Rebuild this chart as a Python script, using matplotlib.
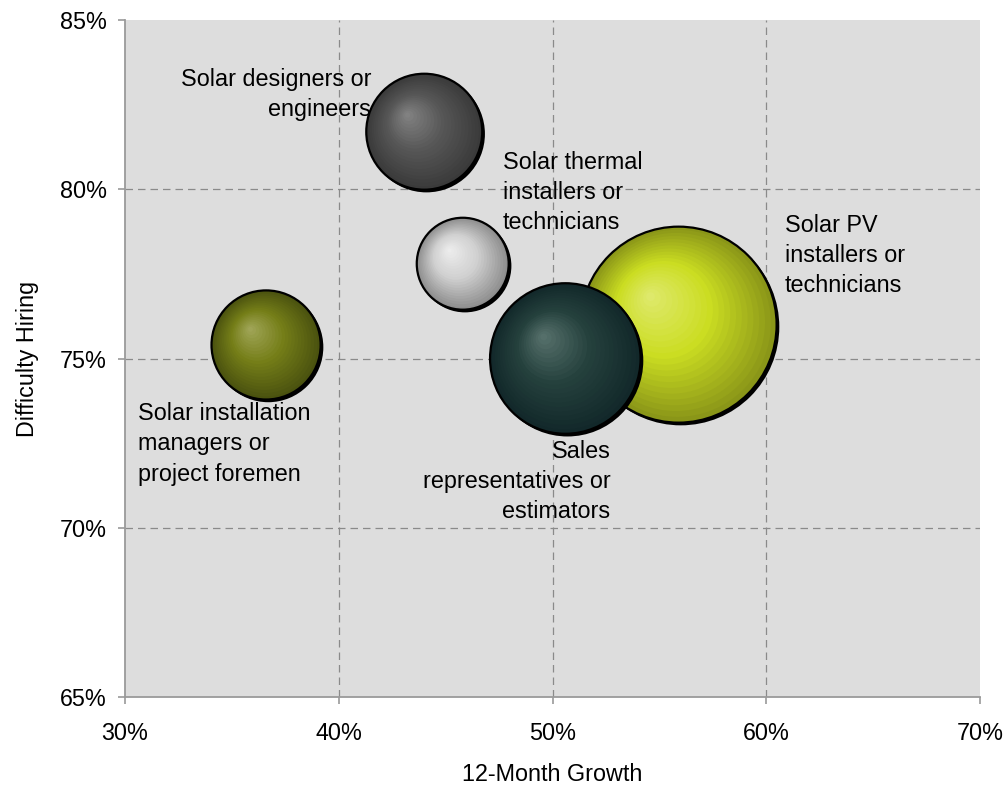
import numpy as np
import matplotlib
matplotlib.use("Agg")
import matplotlib.pyplot as plt
from matplotlib.patches import Ellipse
from matplotlib.colors import to_rgb

# Job categories in the solar workforce survey
categories = [
    "Solar designers or\nengineers",
    "Solar thermal\ninstallers or\ntechnicians",
    "Solar PV\ninstallers or\ntechnicians",
    "Sales\nrepresentatives or\nestimators",
    "Solar installation\nmanagers or\nproject foremen",
]
growth = [44.0, 45.8, 55.9, 50.6, 36.6]          # 12-month growth, %
difficulty = [81.7, 77.8, 76.0, 75.0, 75.4]      # share reporting difficulty hiring, %
bubble_size = [35, 22, 100, 59, 31]              # relative bubble size

x_ticks = [30, 40, 50, 60, 70]
y_ticks = [65, 70, 75, 80, 85]

# Three-stop sphere shading: highlight, middle, rim
shades = [
    ("#858585", "#575757", "#3a3a3a"),
    ("#efefef", "#d0d0d0", "#8e8e8e"),
    ("#e0ea72", "#cbdd22", "#8a9618"),
    ("#5a746f", "#25413d", "#12282a"),
    ("#a3a85c", "#757e18", "#4a520f"),
]
label_offsets = [(-53, 37), (40, 71), (106, 69), (45, -123), (-128, -99)]
label_align = ["right", "left", "left", "right", "left"]
draw_order = [0, 1, 4, 2, 3]

plt.rcParams["font.family"] = ["Liberation Sans", "DejaVu Sans"]
FS = 16.8

fig = plt.figure(figsize=(10.07, 7.89), dpi=100)
W, H = 1007, 789
ax = fig.add_axes([125 / W, (H - 697) / H, 855 / W, 677 / H])
ax.set_xlim(30, 70)
ax.set_ylim(65, 85)
ax.set_facecolor("#dddddd")

for s in ("top", "right"):
    ax.spines[s].set_visible(False)
for s in ("left", "bottom"):
    ax.spines[s].set_color("#9a9a9a")
    ax.spines[s].set_linewidth(1.3)

ax.set_xticks(x_ticks)
ax.set_yticks(y_ticks)
ax.set_xticklabels([f"{v}%" for v in x_ticks])
ax.set_yticklabels([f"{v}%" for v in y_ticks])
ax.tick_params(axis="both", direction="out", length=5, width=1.2,
               color="#9a9a9a", labelsize=FS, labelcolor="#000000")
ax.tick_params(axis="x", pad=13)
ax.tick_params(axis="y", pad=8)

for v in x_ticks[1:-1]:
    ax.axvline(v, color="#8a8a8a", lw=0.9, ls=(0, (6, 4)), zorder=0.5)
for v in y_ticks[1:-1]:
    ax.axhline(v, color="#8a8a8a", lw=0.9, ls=(0, (6, 4)), zorder=0.5)

ax.set_xlabel("12-Month Growth", fontsize=FS, labelpad=13)
ax.set_ylabel("Difficulty Hiring", fontsize=FS, labelpad=15)

# pixel scale of the data axes
px_x = 855 / 40.0
px_y = 677 / 20.0
max_r = 98.0
max_size = max(bubble_size)


def lerp(c1, c2, t):
    a, b = np.array(to_rgb(c1)), np.array(to_rgb(c2))
    return tuple(a + (b - a) * t)


def shade(stops, t):
    if t < 0.5:
        return lerp(stops[0], stops[1], t / 0.5)
    return lerp(stops[1], stops[2], (t - 0.5) / 0.5)


def ellipse(cx, cy, r, **kw):
    return Ellipse((cx, cy), 2 * r / px_x, 2 * r / px_y, **kw)


z = 2
for i in draw_order:
    cx, cy = growth[i], difficulty[i]
    r = max_r * np.sqrt(bubble_size[i] / max_size)
    # drop shadow toward lower right
    ax.add_patch(ellipse(cx + 2.2 / px_x, cy - 2.2 / px_y, r + 0.5,
                         facecolor="black", edgecolor="none", zorder=z))
    z += 0.01
    hx, hy = cx - 0.3 * r / px_x, cy + 0.3 * r / px_y
    n = 22
    for k in range(n):
        t = 1 - k / n
        ccx = hx + (cx - hx) * t
        ccy = hy + (cy - hy) * t
        ax.add_patch(ellipse(ccx, ccy, r * t, facecolor=shade(shades[i], t),
                             edgecolor="none", zorder=z))
        z += 0.01
    ax.add_patch(ellipse(cx, cy, r, facecolor="none", edgecolor="black",
                         lw=1.6, zorder=z))
    z += 0.01

for i, lab in enumerate(categories):
    ax.annotate(lab, (growth[i], difficulty[i]), xytext=label_offsets[i],
                textcoords="offset pixels", ha=label_align[i], va="center",
                fontsize=FS, linespacing=1.4, zorder=50)

fig.savefig("out.png", dpi=100)
